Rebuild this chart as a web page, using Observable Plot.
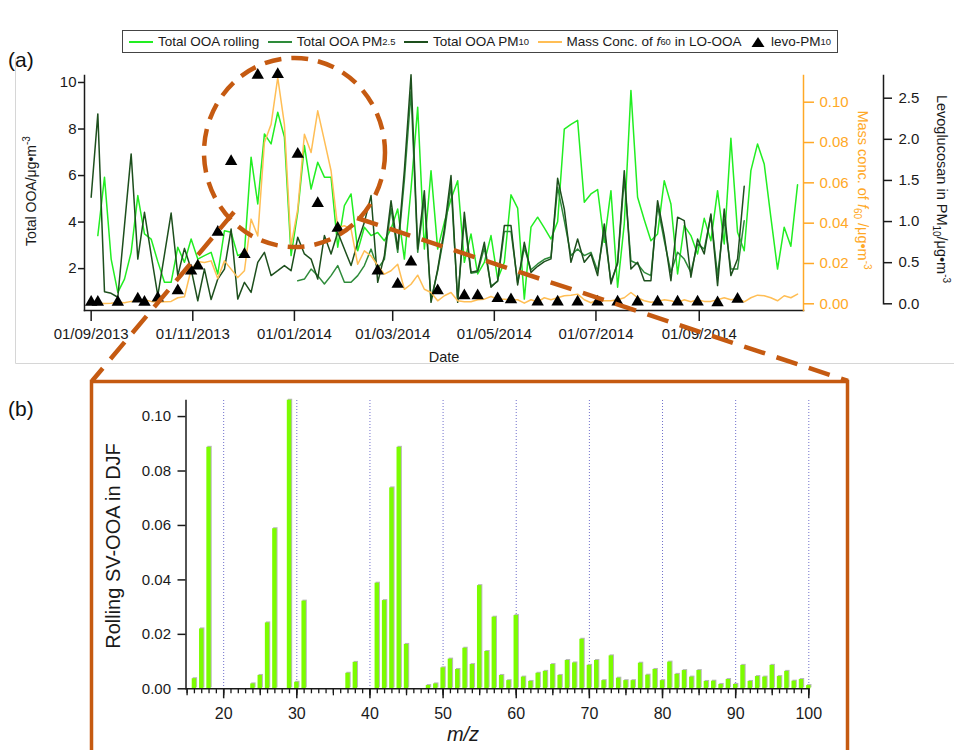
<!DOCTYPE html>
<html>
<head>
<meta charset="utf-8">
<script src="https://cdn.jsdelivr.net/npm/d3@7"></script>
<script src="https://cdn.jsdelivr.net/npm/@observablehq/plot@0.6"></script>
<style>
  body { margin: 0; background: #fff; font-family: "Liberation Sans", Arial, sans-serif; }
  #fig { position: relative; width: 954px; height: 750px; overflow: hidden; background: #fff; }
  #legend {
    position: absolute; left: 122px; top: 30px; width: 716px; height: 23px;
    border: 1px solid #444; display: flex; align-items: center; justify-content: space-between;
    padding: 0 6px; box-sizing: border-box; font-size: 13.5px; color: #1a1a1a; background: #fff;
  }
  #legend .it { display: flex; align-items: center; white-space: nowrap; }
  #legend svg { margin-right: 5px; }
  #legend sub { font-size: 70%; vertical-align: -0.25em; line-height: 0; }
</style>
</head>
<body>
<div id="fig">
  <div id="legend">
    <span class="it"><svg width="24" height="10"><line x1="0" x2="24" y1="5" y2="5" stroke="#22ee22" stroke-width="2"/></svg>Total OOA rolling</span>
    <span class="it"><svg width="24" height="10"><line x1="0" x2="24" y1="5" y2="5" stroke="#2e8b3a" stroke-width="2"/></svg>Total OOA PM<sub>2.5</sub></span>
    <span class="it"><svg width="24" height="10"><line x1="0" x2="24" y1="5" y2="5" stroke="#1d4f1d" stroke-width="2"/></svg>Total OOA PM<sub>10</sub></span>
    <span class="it"><svg width="24" height="10"><line x1="0" x2="24" y1="5" y2="5" stroke="#ffbe55" stroke-width="2"/></svg>Mass Conc. of&nbsp;<i>f</i><sub>60</sub>&nbsp;in LO-OOA</span>
    <span class="it"><svg width="16" height="12"><path d="M8,1 L14.5,11 L1.5,11 Z" fill="#000"/></svg>levo-PM<sub>10</sub></span>
  </div>
</div>
<script>
// ---- Time series, sampled every 4 days ----
const sampleDates = [
  "2013-09-01","2013-09-05","2013-09-09","2013-09-13","2013-09-17","2013-09-21","2013-09-25","2013-09-29",
  "2013-10-03","2013-10-07","2013-10-11","2013-10-15","2013-10-19","2013-10-23","2013-10-27","2013-10-31",
  "2013-11-04","2013-11-08","2013-11-12","2013-11-16","2013-11-20","2013-11-24","2013-11-28",
  "2013-12-02","2013-12-06","2013-12-10","2013-12-14","2013-12-18","2013-12-22","2013-12-26","2013-12-30",
  "2014-01-03","2014-01-07","2014-01-11","2014-01-15","2014-01-19","2014-01-23","2014-01-27","2014-01-31",
  "2014-02-04","2014-02-08","2014-02-12","2014-02-16","2014-02-20","2014-02-24","2014-02-28",
  "2014-03-04","2014-03-08","2014-03-12","2014-03-16","2014-03-20","2014-03-24","2014-03-28",
  "2014-04-01","2014-04-05","2014-04-09","2014-04-13","2014-04-17","2014-04-21","2014-04-25","2014-04-29",
  "2014-05-03","2014-05-07","2014-05-11","2014-05-15","2014-05-19","2014-05-23","2014-05-27","2014-05-31",
  "2014-06-04","2014-06-08","2014-06-12","2014-06-16","2014-06-20","2014-06-24","2014-06-28",
  "2014-07-02","2014-07-06","2014-07-10","2014-07-14","2014-07-18","2014-07-22","2014-07-26","2014-07-30",
  "2014-08-03","2014-08-07","2014-08-11","2014-08-15","2014-08-19","2014-08-23","2014-08-27","2014-08-31",
  "2014-09-04","2014-09-08","2014-09-12","2014-09-16","2014-09-20","2014-09-24","2014-09-28",
  "2014-10-02","2014-10-06","2014-10-10","2014-10-14","2014-10-18","2014-10-22","2014-10-26","2014-10-30"
];

// Total OOA from the rolling PMF (µg m-3)
const ooaRolling = [
  null, 3.42, 5.93, 2.41, 0.98, 1.55, 2.70, 5.14, 3.49, 3.27,
  2.30, 1.41, 1.41, 2.92, 2.27, 3.27, 2.41, 2.56, 2.70, 1.77,
  3.63, 3.56, 2.56, 2.70, 6.79, 4.78, 7.79, 7.36, 8.72, 7.65,
  2.56, 4.42, 7.29, 5.42, 6.57, 5.93, 5.93, 2.92, 4.71, 5.21,
  2.77, 3.78, 3.42, 3.55, 3.20, 3.70, 4.56, 2.41, 5.42, 8.94,
  2.84, 6.21, 2.84, 3.99, 4.99, 5.78, 2.27, 3.49, 1.77, 2.27,
  3.42, 1.55, 2.27, 5.17, 4.60, 0.69, 3.78, 4.21, 3.75, 3.27,
  4.02, 8.00, 8.20, 8.37, 4.85, 5.21, 5.40, 3.13, 5.35, 1.20,
  3.92, 9.66, 5.07, 4.10, 3.20, 3.49, 5.78, 4.78, 1.77, 3.85,
  3.42, 2.63, 4.16, 3.20, 5.35, 3.06, 7.60, 3.56, 2.77, 6.21,
  7.36, 6.50, 4.20, 1.98, 3.78, 2.96, 5.60
];

// Total OOA on PM2.5 filters (µg m-3)
const ooaPM25 = [
  null, null, null, null, null, null, null, null, null, null,
  null, null, null, null, null, null, null, null, null, null,
  null, null, null, null, null, null, null, null, null, null,
  null, 1.48, 1.55, 1.98, 1.70, 1.34, 1.70, 2.13, 1.41, 1.41,
  1.70, 2.13, 2.84, 2.00, 2.40, 4.60, 2.70, 5.80, 9.60, 2.70,
  5.00, 0.65, 1.90, 3.50, 5.60, 0.65, 4.10, 1.80, 1.85, 2.90,
  1.25, 1.45, 3.60, 3.60, 1.40, 2.90, 1.95, 2.20, 2.40, 2.50,
  5.50, 4.06, 2.56, 2.84, 2.56, 2.70, 1.90, 3.60, 1.45, 2.20,
  5.90, 2.34, 2.20, 1.84, 1.70, 4.70, 3.20, 1.84, 2.70, 2.41,
  1.84, 3.06, 2.84, 4.28, 1.70, 4.13, 1.98, 1.98, 4.06, null,
  null, null, null, null, null, null, null
];

// Total OOA on PM10 filters (µg m-3)
const ooaPM10 = [
  5.07, 8.65, 1.01, 0.94, 0.77, 3.85, 6.93, 2.41, 4.42, 2.60,
  0.84, 2.60, 4.39, 1.70, 2.87, 1.98, 0.62, 1.98, 0.67, 1.55,
  1.98, 3.70, 0.69, 1.41, 0.98, 2.27, 2.70, 1.70, 1.91, 2.13,
  1.91, 3.35, 2.63, 2.41, 1.55, 3.42, 2.63, 3.56, 2.84, 2.13,
  3.13, 3.99, 5.14, 1.41, 2.56, 4.92, 2.84, 6.21, 10.33, 2.84,
  5.35, 0.55, 1.98, 3.70, 6.00, 0.55, 4.42, 1.84, 1.91, 3.13,
  1.20, 1.48, 3.85, 3.85, 1.30, 3.13, 1.84, 2.10, 2.30, 2.42,
  5.88, 4.56, 2.27, 3.27, 2.27, 2.63, 1.70, 3.92, 1.34, 2.27,
  6.21, 1.98, 2.27, 1.48, 1.48, 4.92, 3.42, 1.48, 4.21, 4.06,
  1.63, 3.27, 2.63, 4.35, 1.27, 4.56, 1.70, 2.41, 5.54, null,
  null, null, null, null, null, null, null
];

// Mass concentration of f60 in LO-OOA (µg m-3)
const f60Mass = [
  0.0000, 0.0003, 0.0002, 0.0003, 0.0008, 0.0005, 0.0012, 0.0015, 0.0020, 0.0012,
  0.0008, 0.0010, 0.0012, 0.0030, 0.0035, 0.0170, 0.0210, 0.0205, 0.0213, 0.0125,
  0.0213, 0.0172, 0.0130, 0.0164, 0.0420, 0.0337, 0.0800, 0.0890, 0.1122, 0.0890,
  0.0288, 0.0469, 0.0841, 0.0750, 0.0957, 0.0809, 0.0660, 0.0378, 0.0387, 0.0370,
  0.0196, 0.0263, 0.0238, 0.0190, 0.0147, 0.0164, 0.0196, 0.0072, 0.0097, 0.0142,
  0.0072, 0.0056, 0.0015, 0.0040, 0.0056, 0.0015, 0.0010, 0.0010, 0.0020, 0.0023,
  0.0036, 0.0023, 0.0023, 0.0020, 0.0020, 0.0003, 0.0020, 0.0010, 0.0030, 0.0020,
  0.0030, 0.0040, 0.0042, 0.0048, 0.0020, 0.0005, 0.0020, 0.0015, 0.0015, 0.0020,
  0.0030, 0.0056, 0.0030, 0.0015, 0.0008, 0.0012, 0.0020, 0.0015, 0.0006, 0.0020,
  0.0010, 0.0020, 0.0012, 0.0012, 0.0020, 0.0030, 0.0020, 0.0025, 0.0010, 0.0030,
  0.0043, 0.0040, 0.0030, 0.0015, 0.0040, 0.0030, 0.0048
];

// Levoglucosan in PM10 (µg m-3)
const levoDates = [
  "2013-09-01","2013-09-05","2013-09-17","2013-09-29","2013-10-03","2013-10-11","2013-10-23","2013-10-31",
  "2013-11-04","2013-11-16","2013-11-24","2013-12-02","2013-12-10","2013-12-22","2014-01-03","2014-01-15",
  "2014-01-27","2014-02-20","2014-03-04","2014-03-12","2014-03-28","2014-04-13","2014-04-21","2014-05-03",
  "2014-05-11","2014-05-27","2014-06-08","2014-06-20","2014-07-02","2014-07-14","2014-07-26","2014-08-07",
  "2014-08-19","2014-08-31","2014-09-12","2014-09-24"
];
const levoPM10 = [
  0.02, 0.02, 0.02, 0.06, 0.02, 0.07, 0.16, 0.40,
  0.46, 0.87, 1.73, 0.60, 2.78, 2.79, 1.82, 1.22,
  0.92, 0.40, 0.24, 0.51, 0.16, 0.10, 0.10, 0.064,
  0.049, 0.024, 0.024, 0.024, 0.024, 0.024, 0.024, 0.024,
  0.024, 0.024, 0.015, 0.055
];

// Rolling SV-OOA mass spectrum for DJF
const mzValues = [
  16, 17, 18, 24, 25, 26, 27, 29, 30, 31, 37, 38, 41, 42, 43, 44, 45, 48, 49, 50,
  51, 52, 53, 54, 55, 56, 57, 58, 59, 60, 61, 62, 63, 64, 65, 66, 67, 68, 69, 70,
  71, 72, 73, 74, 75, 76, 77, 78, 79, 80, 81, 82, 83, 84, 85, 86, 87, 88, 89, 90,
  91, 92, 93, 94, 95, 96, 97, 98, 99, 100
];
const svOOA = [
  0.0037, 0.0220, 0.0887, 0.0018, 0.0049, 0.0242, 0.0588, 0.1060, 0.0024, 0.0322,
  0.0057, 0.0097, 0.0388, 0.0324, 0.0738, 0.0887, 0.0163, 0.0012, 0.0018, 0.0077,
  0.0109, 0.0071, 0.0149, 0.0089, 0.0379, 0.0137, 0.0263, 0.0049, 0.0030, 0.0269,
  0.0043, 0.0027, 0.0057, 0.0064, 0.0089, 0.0049, 0.0104, 0.0095, 0.0182, 0.0086,
  0.0104, 0.0030, 0.0121, 0.0039, 0.0030, 0.0030, 0.0094, 0.0050, 0.0071, 0.0030,
  0.0098, 0.0053, 0.0067, 0.0043, 0.0067, 0.0027, 0.0028, 0.0016, 0.0034, 0.0016,
  0.0086, 0.0027, 0.0045, 0.0043, 0.0086, 0.0045, 0.0064, 0.0028, 0.0034, 0.0012
];

// Tick values
const dateTicks = ["2013-09-01","2013-11-01","2014-01-01","2014-03-01","2014-05-01","2014-07-01","2014-09-01"];
const ooaTicks = [2, 4, 6, 8, 10];
const f60Ticks = [0, 0.02, 0.04, 0.06, 0.08, 0.10];
const levoTicks = [0, 0.5, 1.0, 1.5, 2.0, 2.5];
const specTicks = [0, 0.02, 0.04, 0.06, 0.08, 0.10];
const mzLabels = [20, 30, 40, 50, 60, 70, 80, 90, 100];

// ---- Build tables ----
const parse = d3.utcParse("%Y-%m-%d");
const series = sampleDates.map((d, i) => ({
  date: parse(d), rolling: ooaRolling[i], pm25: ooaPM25[i], pm10: ooaPM10[i], f60: f60Mass[i]
}));
const levo = levoDates.map((d, i) => ({date: parse(d), v: levoPM10[i]}));
const spectrum = mzValues.map((m, i) => ({mz: m, v: svOOA[i]}));

const fig = document.getElementById("fig");
const font = "'Liberation Sans', Arial, sans-serif";
const ink = "#1a1a1a";
const orange = "#ffa826";
const baseStyle = {fontFamily: font, fontSize: "15px", background: "transparent", overflow: "visible"};
function place(svg, top) {
  svg.style.position = "absolute";
  svg.style.left = "0px";
  svg.style.top = top + "px";
  svg.style.maxWidth = "none";
  fig.appendChild(svg);
}
const xTime = {type: "utc", domain: [new Date(Date.UTC(2013, 7, 28)), new Date(Date.UTC(2014, 10, 2, 14))], range: [84, 803]};

// (a) Total OOA on the left axis
place(Plot.plot({
  width: 954, height: 310, marginTop: 15, marginBottom: 60, marginLeft: 84, marginRight: 151,
  style: {...baseStyle, color: ink},
  x: {...xTime},
  y: {domain: [0.2, 10.3]},
  marks: [
    Plot.line(series, {x: "date", y: "rolling", stroke: "#22ee22", strokeWidth: 1.5}),
    Plot.line(series, {x: "date", y: "pm25", stroke: "#2e8b3a", strokeWidth: 1.5}),
    Plot.line(series, {x: "date", y: "pm10", stroke: "#1d4f1d", strokeWidth: 1.5}),
    Plot.frame({anchor: "left", strokeWidth: 1.5}),
    Plot.frame({anchor: "bottom", strokeWidth: 1.5}),
    Plot.axisY({ticks: ooaTicks, tickSize: 6, tickPadding: 2, strokeWidth: 1.5, label: null}),
    Plot.axisX({ticks: dateTicks.map(parse), tickFormat: d3.utcFormat("%d/%m/%Y"), tickSize: 11, tickPadding: 7, strokeWidth: 1.5, label: null})
  ]
}), 60);

// (a) f60 mass concentration on the orange right axis
place(Plot.plot({
  width: 954, height: 310, marginTop: 15, marginBottom: 60, marginLeft: 84, marginRight: 151,
  style: {...baseStyle, color: orange},
  x: {...xTime, axis: null},
  y: {domain: [-0.00332, 0.11324]},
  marks: [
    Plot.line(series, {x: "date", y: "f60", stroke: "#ffbe55", strokeWidth: 1.5}),
    Plot.frame({anchor: "right", strokeWidth: 1.5}),
    Plot.axisY({anchor: "right", ticks: f60Ticks, tickFormat: ".2f", tickSize: 10, tickPadding: 6, strokeWidth: 1.5, label: null})
  ]
}), 60);

// (a) levoglucosan on the outer right axis
place(Plot.plot({
  width: 954, height: 310, marginTop: 15, marginBottom: 66.7, marginLeft: 84, marginRight: 71,
  style: {...baseStyle, color: ink},
  x: {...xTime, axis: null},
  y: {domain: [0, 2.776]},
  marks: [
    Plot.frame({anchor: "right", strokeWidth: 1.5}),
    Plot.axisY({anchor: "right", ticks: levoTicks, tickFormat: ".1f", tickSize: 8, tickPadding: 7, strokeWidth: 1.5, label: null}),
    Plot.dot(levo, {x: "date", y: "v", symbol: "triangle", r: 4.6, fill: "#000"})
  ]
}), 60);

// (b) spectrum
const barHalf = 0.3;
place(Plot.plot({
  width: 954, height: 370, marginTop: 20, marginBottom: 61.7, marginLeft: 185.5, marginRight: 145.7,
  style: {...baseStyle, color: ink},
  x: {domain: [14.85, 100]},
  y: {domain: [0, 0.1059]},
  marks: [
    Plot.ruleX(mzLabels, {stroke: "#7070cc", strokeDasharray: "1,2", strokeWidth: 1}),
    Plot.rect(spectrum, {x1: d => d.mz - barHalf, x2: d => d.mz + barHalf, y1: 0, y2: "v", fill: "#b8b8b8", dx: 1, dy: -1}),
    Plot.rect(spectrum, {x1: d => d.mz - barHalf, x2: d => d.mz + barHalf, y1: 0, y2: "v", fill: "#7cfc00"}),
    Plot.frame({anchor: "left", strokeWidth: 1.5}),
    Plot.frame({anchor: "bottom", strokeWidth: 1.5}),
    Plot.axisY({ticks: specTicks, tickFormat: ".2f", tickSize: 8, tickPadding: 7, strokeWidth: 1.5, label: null}),
    Plot.axisX({ticks: d3.range(15, 101), tickSize: 5, tickFormat: () => "", strokeWidth: 1.3, label: null}),
    Plot.axisX({ticks: d3.range(15, 101, 5), tickSize: 7, tickFormat: () => "", strokeWidth: 1.3, label: null}),
    Plot.axisX({ticks: mzLabels, tickSize: 10, tickPadding: 9, fontSize: 16, strokeWidth: 1.5, label: null})
  ]
}), 380);

// ---- Titles, panel letters and the zoom-in annotation ----
const brown = "#c55a11";
const ov = d3.create("svg")
  .attr("width", 954).attr("height", 750)
  .style("position", "absolute").style("left", "0px").style("top", "0px")
  .style("font-family", font).style("pointer-events", "none");
ov.html(`
  <path d="M15.5,58 V363.5 H954" fill="none" stroke="#d6d6d6" stroke-width="1"/>
  <text x="8" y="67" font-size="21" fill="#111">(a)</text>
  <text x="8" y="416" font-size="21" fill="#111">(b)</text>
  <text transform="translate(36,191) rotate(-90)" text-anchor="middle" font-size="14" fill="${ink}">Total OOA/μg•m<tspan dy="-6" font-size="10">-3</tspan></text>
  <text transform="translate(858,190) rotate(90)" text-anchor="middle" font-size="14.5" fill="${orange}">Mass conc. of <tspan font-style="italic">f</tspan><tspan dy="4" font-size="10">60</tspan><tspan dy="-4"> /μg•m</tspan><tspan dy="-6" font-size="10">-3</tspan></text>
  <text transform="translate(937,189) rotate(90)" text-anchor="middle" font-size="14.5" fill="${ink}">Levoglucosan in PM<tspan dy="4" font-size="10">10</tspan><tspan dy="-4">/μg•m</tspan><tspan dy="-6" font-size="10">-3</tspan></text>
  <text x="444" y="362" text-anchor="middle" font-size="14.5" fill="${ink}">Date</text>
  <text transform="translate(119.5,546) rotate(-90)" text-anchor="middle" font-size="20" fill="${ink}">Rolling SV-OOA in DJF</text>
  <text x="463" y="741" text-anchor="middle" font-size="20" font-style="italic" fill="${ink}">m/z</text>
  <rect x="91.5" y="381.5" width="756" height="400" fill="none" stroke="${brown}" stroke-width="3.5"/>
  <ellipse cx="294.5" cy="152.5" rx="90.5" ry="94.5" fill="none" stroke="${brown}" stroke-width="4.5" stroke-dasharray="17,10"/>
  <line x1="234" y1="212" x2="92" y2="381" stroke="${brown}" stroke-width="4.5" stroke-dasharray="22,12"/>
  <line x1="357" y1="218" x2="848" y2="381" stroke="${brown}" stroke-width="4.5" stroke-dasharray="22,12"/>
`);
fig.appendChild(ov.node());
</script>
</body>
</html>
